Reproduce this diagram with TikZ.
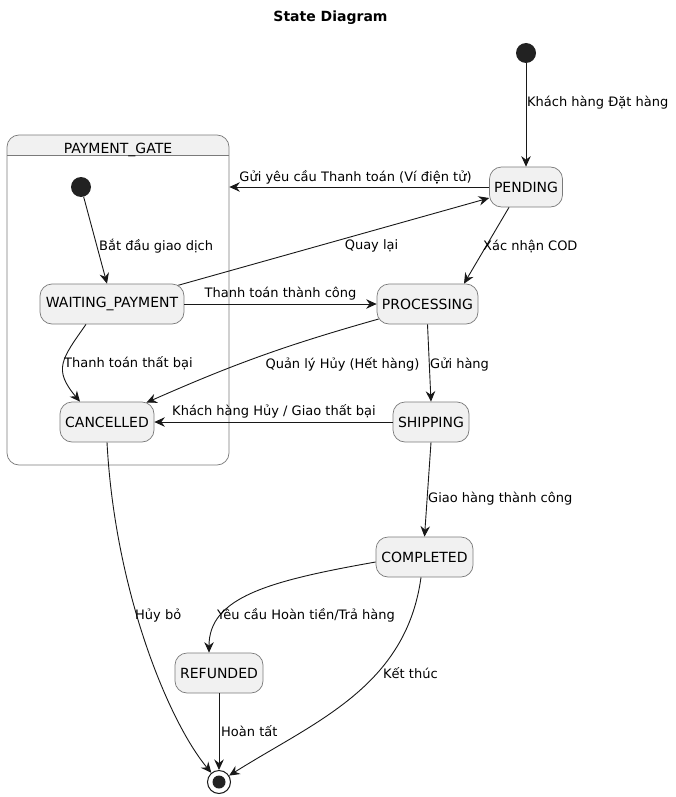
\documentclass[tikz,border=0pt]{standalone}
\usepackage{fontspec}
\setmainfont{DejaVu Sans}
\usetikzlibrary{arrows.meta,calc}
\definecolor{edgecol}{HTML}{181818}
\definecolor{boxfill}{HTML}{F1F1F1}
\definecolor{boxline}{HTML}{7A7A7A}
\definecolor{dotfill}{HTML}{222222}

\begin{document}
\begin{tikzpicture}[x=1pt,y=1pt,
  state/.style={draw=boxline, line width=0.7pt, fill=boxfill, rounded corners=12pt,
    minimum height=40pt, inner sep=0pt, font=\fontsize{14}{16}\selectfont},
  initdot/.style={circle, fill=dotfill, minimum size=20pt, inner sep=0pt},
  enddot/.style={circle, draw=edgecol, line width=1pt, fill=white, minimum size=23pt, inner sep=0pt},
  lbl/.style={inner sep=0pt, yshift=-2.5pt, font=\fontsize{13}{15}\selectfont, text=black},
  trans/.style={draw=edgecol, line width=0.9pt, -{Stealth[length=10.5pt,width=9.5pt,inset=3.5pt]}},
]
\useasboundingbox (0,-797) rectangle (675,0);

% title
\node[font=\bfseries\fontsize{14}{16}\selectfont] (title) at (330.5,-18) {State Diagram};

% composite state PAYMENT_GATE: header band, frame, divider
\begin{scope}
  \clip[rounded corners=12pt] (7,-465) rectangle (229,-135);
  \fill[boxfill] (7,-155) rectangle (229,-135);
\end{scope}
\node[draw=boxline, line width=0.7pt, rounded corners=12pt, minimum width=222pt,
  minimum height=330pt, inner sep=0pt] (gate) at (118,-300) {};
\draw[boxline, line width=0.7pt] (7,-155) -- (229,-155);
\node[font=\fontsize{14}{16}\selectfont, anchor=mid] (gatetitle) at (118,-151) {PAYMENT\_GATE};

% pseudo states
\node[initdot] (init) at (526,-53) {};
\node[initdot] (init2) at (81,-187) {};
\node[enddot] (final) at (219,-782) {};
\fill[dotfill] (final) circle (6.5);

% states
\node[state, minimum width=73pt]  (pending)    at (526,-187)   {PENDING};
\node[state, minimum width=144pt] (waiting)    at (112,-304)   {WAITING\_PAYMENT};
\node[state, minimum width=94pt]  (cancelled)  at (107,-422)   {CANCELLED};
\node[state, minimum width=101pt] (processing) at (427.5,-304) {PROCESSING};
\node[state, minimum width=76pt]  (shipping)   at (431,-422)   {SHIPPING};
\node[state, minimum width=97pt]  (completed)  at (424.5,-557) {COMPLETED};
\node[state, minimum width=88pt]  (refunded)   at (219,-673)   {REFUNDED};

% transitions
\draw[trans] (init) -- (pending.north);
\draw[trans] (pending.west) -- (gate.east |- pending.west);
\draw[trans] ([shift={(-6pt,-1.6pt)}]waiting.north east) -- ([yshift=-11pt]pending.west);
\draw[trans] (waiting.east) -- (processing.west);
\draw[trans] ([xshift=-17pt]pending.south) -- ([xshift=36.5pt]processing.north);
\draw[trans] ([shift={(2pt,-15pt)}]processing.west) to[bend right=4] ([shift={(-8pt,-1pt)}]cancelled.north east);
\draw[trans] (processing.south) -- (shipping.north);
\draw[trans] (shipping.west) -- (cancelled.east);
\draw[trans] ([xshift=-26pt]waiting.south) to[out=235,in=130,looseness=1.4] ([xshift=-27pt]cancelled.north);
\draw[trans] (init2) -- ([xshift=-5pt]waiting.north);
\draw[trans] (shipping.south) -- (completed.north);
\draw[trans] ([yshift=-5pt]completed.west) .. controls +(190:110) and +(90:55) .. ([xshift=-10pt]refunded.north);
\draw[trans] ([xshift=-3.5pt]completed.south) .. controls +(-15,-110) and +(95,60) .. (final);
\draw[trans] (cancelled.south) .. controls +(8,-150) and +(-50,60) .. (final);
\draw[trans] (refunded.south) -- (final);

% transition labels
\node[lbl, anchor=mid west] (l1)  at (527,-101)    {Khách hàng Đặt hàng};
\node[lbl, anchor=mid]      (l2)  at (355.5,-176)  {Gửi yêu cầu Thanh toán (Ví điện tử)};
\node[lbl, anchor=mid]      (l3)  at (371.5,-244)  {Quay lại};
\node[lbl, anchor=mid]      (l4)  at (280.5,-292)  {Thanh toán thành công};
\node[lbl, anchor=mid west] (l5)  at (483,-245)    {Xác nhận COD};
\node[lbl, anchor=mid]      (l6)  at (342.5,-363)  {Quản lý Hủy (Hết hàng)};
\node[lbl, anchor=mid west] (l7)  at (430,-363)    {Gửi hàng};
\node[lbl, anchor=mid]      (l8)  at (274,-410)    {Khách hàng Hủy / Giao thất bại};
\node[lbl, anchor=mid west] (l9)  at (64,-362)     {Thanh toán thất bại};
\node[lbl, anchor=mid west] (l10) at (99,-245.5)   {Bắt đầu giao dịch};
\node[lbl, anchor=mid west] (l11) at (428,-497)    {Giao hàng thành công};
\node[lbl, anchor=mid west] (l12) at (217,-614)    {Yêu cầu Hoàn tiền/Trả hàng};
\node[lbl, anchor=mid west] (l13) at (383,-673)    {Kết thúc};
\node[lbl, anchor=mid west] (l14) at (221,-731.5)  {Hoàn tất};
\node[lbl, anchor=mid west] (l15) at (135,-614.5)  {Hủy bỏ};
\end{tikzpicture}
\end{document}
